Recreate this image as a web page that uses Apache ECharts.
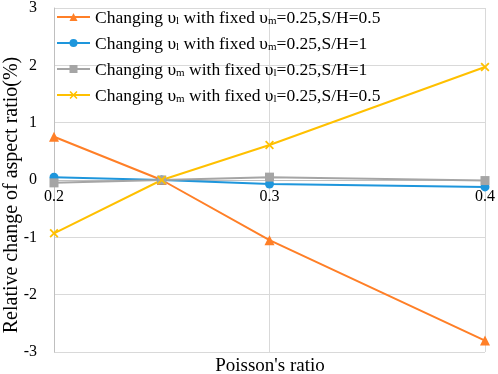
<!DOCTYPE html>
<html>
<head>
<meta charset="utf-8">
<script src="https://cdn.jsdelivr.net/npm/echarts@6/dist/echarts.min.js"></script>
<style>
  html, body { margin: 0; padding: 0; background: #fff; }
  #chart { width: 498px; height: 374px; }
</style>
</head>
<body>
<div id="chart"></div>
<script>
// Poisson's ratio on x
var xValues = [0.2, 0.25, 0.3, 0.4];
var xTicks = [0.2, 0.3, 0.4];
var yTicks = [-3, -2, -1, 0, 1, 2, 3];

// relative change of aspect ratio (%)
var lFixedM05 = [0.755, 0, -1.05, -2.8];
var lFixedM1 = [0.05, 0, -0.07, -0.12];
var mFixedL1 = [-0.05, 0, 0.05, -0.01];
var mFixedL05 = [-0.93, 0, 0.61, 1.97];

var names = [
  'Changing υl with fixed υm=0.25,S/H=0.5',
  'Changing υl with fixed υm=0.25,S/H=1',
  'Changing υm with fixed υl=0.25,S/H=1',
  'Changing υm with fixed υl=0.25,S/H=0.5'
];
// same labels, with subscripts as rich text
var legendRich = [
  '{a|Changing υ}{s|l}{a| with fixed υ}{s|m}{a|=0.25,S/H=0.5}',
  '{a|Changing υ}{s|l}{a| with fixed υ}{s|m}{a|=0.25,S/H=1}',
  '{a|Changing υ}{s|m}{a| with fixed υ}{s|l}{a|=0.25,S/H=1}',
  '{a|Changing υ}{s|m}{a| with fixed υ}{s|l}{a|=0.25,S/H=0.5}'
];

var font = '"Liberation Serif", "DejaVu Serif", serif';
var chart = echarts.init(document.getElementById('chart'));

function pairs(arr) {
  return arr.map(function (v, i) { return [xValues[i], v]; });
}

function line(idx, data, color, symbol, size) {
  return {
    type: 'line',
    name: names[idx],
    data: pairs(data),
    symbol: symbol,
    symbolSize: size,
    showSymbol: true,
    color: color,
    lineStyle: { color: color, width: 2 },
    itemStyle: { color: color },
    z: 3
  };
}

var xMark = 'path://M0,1.4L1.4,0L5,3.6L8.6,0L10,1.4L6.4,5L10,8.6L8.6,10L5,6.4L1.4,10L0,8.6L3.6,5Z';

var option = {
  animation: false,
  backgroundColor: '#fff',
  textStyle: { fontFamily: font },
  grid: { left: 54, right: 12, top: 8, bottom: 22, containLabel: false },
  legend: {
    orient: 'vertical',
    left: 56,
    top: 7,
    padding: 0,
    itemWidth: 33,
    itemHeight: 10,
    itemGap: 6,
    data: names,
    formatter: function (name) { return legendRich[names.indexOf(name)]; },
    textStyle: {
      color: '#000',
      fontFamily: font,
      rich: {
        a: { fontSize: 17.5, fontFamily: font, color: '#000', lineHeight: 20, verticalAlign: 'bottom' },
        s: { fontSize: 11, fontFamily: font, color: '#000', lineHeight: 12, padding: [9, 0, 0, 0], verticalAlign: 'bottom' }
      }
    }
  },
  xAxis: {
    type: 'value',
    min: 0.2,
    max: 0.4,
    interval: 0.1,
    offset: -172,
    axisLine: { show: true, onZero: false, lineStyle: { color: '#bfbfbf', width: 1 } },
    axisTick: { show: false },
    axisLabel: {
      color: '#000', fontSize: 16, fontFamily: font, margin: 9,
      formatter: function (v) { return xTicks.indexOf(Math.round(v * 10) / 10) >= 0 ? v.toFixed(1) : ''; }
    },
    splitLine: { show: true, lineStyle: { color: '#d9d9d9', width: 1 } }
  },
  yAxis: {
    type: 'value',
    min: yTicks[0],
    max: yTicks[yTicks.length - 1],
    interval: 1,
    axisLine: { show: true, lineStyle: { color: '#bfbfbf', width: 1 } },
    axisTick: { show: false },
    axisLabel: { color: '#000', fontSize: 16, fontFamily: font, margin: 17 },
    splitLine: { show: true, lineStyle: { color: '#d9d9d9', width: 1 } }
  },
  graphic: [
    {
      type: 'text',
      x: 12,
      y: 195,
      rotation: Math.PI / 2,
      style: {
        text: 'Relative change of aspect ratio(%)',
        font: '20px ' + font,
        fill: '#000',
        align: 'center',
        verticalAlign: 'middle'
      }
    },
    {
      type: 'text',
      x: 270,
      y: 366,
      style: {
        text: "Poisson's ratio",
        font: '19px ' + font,
        fill: '#000',
        align: 'center',
        verticalAlign: 'middle'
      }
    }
  ],
  series: [
    line(0, lFixedM05, '#ff7f27', 'triangle', 10),
    line(1, lFixedM1, '#1e96dc', 'circle', 9),
    line(2, mFixedL1, '#a5a5a5', 'rect', 9),
    line(3, mFixedL05, '#ffc000', xMark, 9)
  ]
};

chart.setOption(option);
</script>
</body>
</html>
